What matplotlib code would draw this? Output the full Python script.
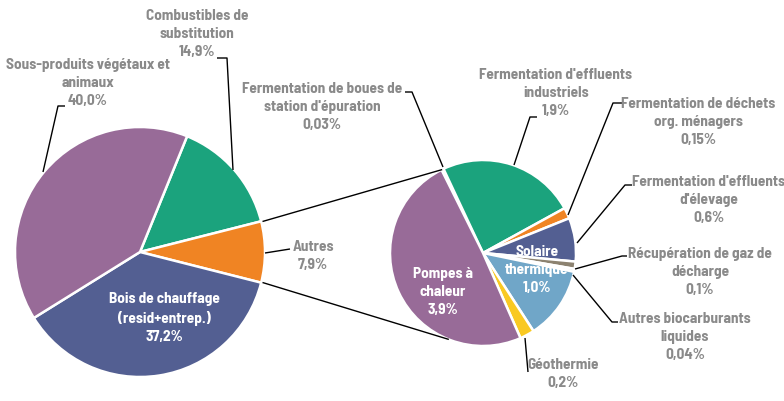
"""Pie-of-pie: heat from renewables, the 'Autres' slice broken down on the right."""
import math

import matplotlib.pyplot as plt

# Main pie, clockwise from the top-right
MAIN_LABELS = ["Combustibles de\nsubstitution", "Autres",
               "Bois de chauffage\n(resid+entrep.)", "Sous-produits végétaux et\nanimaux"]
MAIN_VALUES = [14.9, 7.9, 37.2, 40.0]
MAIN_COLOURS = ["#1BA37D", "#F08423", "#535F92", "#986B98"]

# Breakdown of "Autres", clockwise from the top
SUB_LABELS = ["Fermentation de boues de\nstation d'épuration",
              "Fermentation d'effluents\nindustriels",
              "Fermentation de déchets\norg. ménagers",
              "Fermentation d'effluents\nd'élevage",
              "Récupération de gaz de\ndécharge",
              "Autres biocarburants\nliquides",
              "Solaire\nthermique",
              "Géothermie",
              "Pompes à\nchaleur"]
SUB_VALUES = [0.03, 1.9, 0.15, 0.6, 0.1, 0.04, 1.0, 0.2, 3.9]
SUB_COLOURS = ["#D9D9D9", "#1BA37D", "#F08423", "#535F92", "#8C8270",
               "#E8E4DC", "#70A6C8", "#F9C922", "#986B98"]

W, H = 784, 401
GREY = "#8A8A8A"
FONT = dict(family=["Barlow Semi Condensed", "Barlow Condensed", "DejaVu Sans"],
            fontweight="bold", fontsize=11, linespacing=1.4)

# Layout in pixels, origin top-left (label centre, leader polyline or None, text colour)
MAIN_LAYOUT = [
    ((197, 34), [(217, 58), (227, 58), (233, 170)], GREY),
    ((313, 256), [(290, 249), (265, 253)], GREY),
    ((164, 318), None, "white"),
    ((88, 83), [(65, 106), (58, 106), (43, 172)], GREY),
]
SUB_LAYOUT = [
    ((322, 107), [(405, 92), (412, 92), (443, 167)], GREY),
    ((556, 93), [(537, 117), (530, 117), (514, 165)], GREY),
    ((698, 122), [(622, 103), (613, 103), (568, 215)], GREY),
    ((709, 200), [(632, 185), (625, 185), (577, 243)], GREY),
    ((700, 272), [(627, 256), (622, 256), (575, 269)], GREY),
    ((685, 337), [(618, 322), (612, 322), (573, 275)], GREY),
    ((537, 270), None, "white"),
    ((563, 374), [(525, 338), (528, 372)], GREY),
    ((443, 292), None, "white"),
]


def fy(y):
    """Flip a top-origin pixel y into axes data y."""
    return H - y


def fmt(v):
    s = f"{v:.2f}" if v < 0.1 or v == 0.15 else f"{v:.1f}"
    return s.replace(".", ",") + "%"


def draw_labels(ax, labels, values, layout):
    for lab, val, ((x, y), leader, col) in zip(labels, values, layout):
        ax.text(x, fy(y), f"{lab}\n{fmt(val)}", ha="center", va="center",
                color=col, **FONT)
        if leader:
            ax.plot([p[0] for p in leader], [fy(p[1]) for p in leader],
                    color="black", linewidth=1.0, solid_capstyle="butt")


fig = plt.figure(figsize=(W / 100, H / 100), dpi=100)
ax = fig.add_axes([0, 0, 1, 1])

main_c, main_r = (140, fy(252)), 125
sub_c, sub_r = (483, fy(253)), 93
wp = dict(edgecolor="white", linewidth=1.8)

total = sum(MAIN_VALUES)
start_main = (MAIN_VALUES[1] / 2 + MAIN_VALUES[0]) / total * 360
main_wedges, _ = ax.pie(MAIN_VALUES, colors=MAIN_COLOURS, counterclock=False,
                        startangle=start_main, center=main_c, radius=main_r,
                        wedgeprops=wp)
sub_wedges, _ = ax.pie(SUB_VALUES, colors=SUB_COLOURS, counterclock=False,
                       startangle=116.5, center=sub_c, radius=sub_r, wedgeprops=wp)

# connector lines between the "Autres" wedge and the breakdown pie
ow = main_wedges[1]
for t_main, t_sub in ((ow.theta2, 116.5), (ow.theta1, -112)):
    x0 = main_c[0] + main_r * math.cos(math.radians(t_main))
    y0 = main_c[1] + main_r * math.sin(math.radians(t_main))
    x1 = sub_c[0] + sub_r * math.cos(math.radians(t_sub))
    y1 = sub_c[1] + sub_r * math.sin(math.radians(t_sub))
    ax.plot([x0 + 2, x1], [y0, y1], color="black", linewidth=1.0)

draw_labels(ax, MAIN_LABELS, MAIN_VALUES, MAIN_LAYOUT)
draw_labels(ax, SUB_LABELS, SUB_VALUES, SUB_LAYOUT)

ax.set_xlim(0, W)
ax.set_ylim(0, H)
ax.axis("off")
fig.savefig("out.png", dpi=100, facecolor="white")
